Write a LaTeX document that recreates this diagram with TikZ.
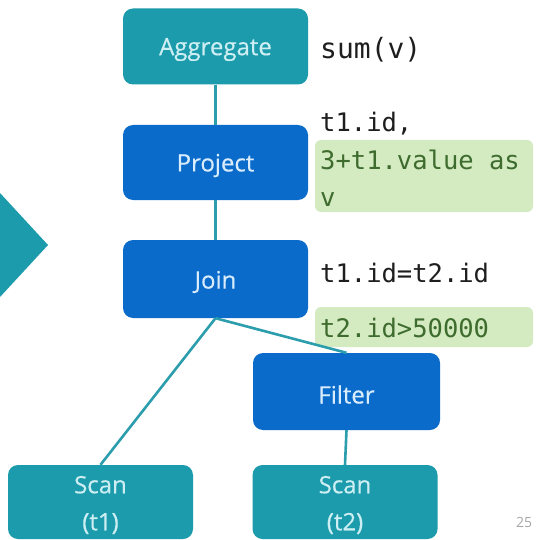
\documentclass[tikz,border=0pt]{standalone}
\usepackage{fontspec}
\setmainfont{Open Sans}
\newfontfamily\opfont[FakeBold=0.4]{Open Sans}
\newfontfamily\codefont{DejaVu Sans Mono}
\definecolor{opteal}{HTML}{1B9BAB}
\definecolor{opblue}{HTML}{0A6BCB}
\definecolor{tealtext}{HTML}{CDEFF3}
\definecolor{bluetext}{HTML}{D8ECFC}
\definecolor{predfill}{HTML}{D4EBC2}
\definecolor{predtext}{HTML}{3E6B2E}
\definecolor{linkcol}{HTML}{2B9DAC}
\definecolor{codetext}{HTML}{1E1E1E}
\tikzset{
  opbox/.style={rounded corners=10pt, minimum width=185pt, minimum height=76pt,
    inner sep=0pt},
  optext/.style={inner sep=0pt, align=center, font=\opfont\fontsize{24}{37}\selectfont},
  tealop/.style={opbox, fill=opteal, label={[optext, text=tealtext, yshift=-3pt]center:#1}},
  blueop/.style={opbox, fill=opblue, label={[optext, text=bluetext, yshift=-3pt]center:#1}},
  link/.style={draw=linkcol, line width=2.6pt},
  code/.style={anchor=west, inner sep=0pt, align=left, text=codetext,
    font=\codefont\fontsize{25.5}{37}\selectfont},
  pred/.style={fill=predfill, rounded corners=6pt}
}
\begin{document}
\begin{tikzpicture}[x=1pt,y=-1pt]
\useasboundingbox (0,0) rectangle (535,540);

% big pointer on the left edge
\fill[opteal] (0,193) -- (48,245) -- (0,297) -- cycle;

% highlighted predicate backgrounds
\fill[pred] (315,140) rectangle (533,212);
\fill[pred] (315,307) rectangle (533,347);

% operator tree
\node[tealop=Aggregate] (agg) at (215.5,46.5) {};
\node[blueop=Project, minimum height=75pt] (proj) at (215.5,162.5) {};
\node[blueop=Join, minimum height=78pt] (join) at (215.5,279) {};
\node[blueop=Filter, minimum width=187pt, minimum height=77pt] (filt) at (346.5,391.5) {};
\node[tealop={Scan\\(t1)}, minimum height=74pt] (scana) at (100.5,502) {};
\node[tealop={Scan\\(t2)}, minimum height=74pt] (scanb) at (345,502) {};

\draw[link] (agg.south) -- (proj.north);
\draw[link] (proj.south) -- (join.north);
\draw[link] (join.south) -- (scana.north);
\draw[link] (join.south) -- (filt.north);
\draw[link] (filt.south) -- (scanb.north);

% operator arguments
\node[code, font=\codefont\fontsize{28}{37}\selectfont] (aggarg) at (320,50) {sum(v)};
\node[code] (projarg1) at (320,124) {t1.id,};
\node[code, text=predtext] (projarg2) at (320,178) {3+t1.value as\\v};
\node[code] (joinarg) at (320,273) {t1.id=t2.id};
\node[code, text=predtext] (filtarg) at (320,328) {t2.id>50000};

% page number
\node[anchor=west, inner sep=0pt, text=gray!70, font=\fontsize{14}{16}\selectfont] (pageno) at (516,522) {25};
\end{tikzpicture}
\end{document}
